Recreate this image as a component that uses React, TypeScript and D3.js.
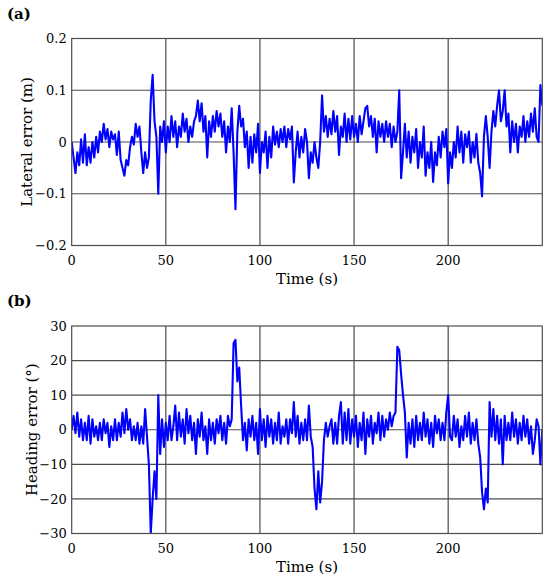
import * as d3 from "d3";
import React, { useEffect, useRef } from "react";

const lateralError = [
    0.0, -0.03, -0.06, -0.02, -0.045, 0.005, -0.04, 0.015, -0.045, -0.01,
    -0.04, 0.0, -0.03, 0.01, -0.02, 0.02, 0.0, 0.035, 0.005, 0.025,
    -0.01, 0.02, 0.005, 0.015, -0.025, 0.02, -0.035, -0.05, -0.065, -0.035,
    -0.045, -0.01, 0.01, -0.005, 0.035, 0.01, 0.03, -0.02, -0.06, -0.02,
    -0.05, -0.03, 0.08, 0.13, 0.04, 0.01, -0.1, 0.03, 0.0, 0.04,
    -0.02, 0.03, 0.0, 0.05, 0.01, 0.04, -0.01, 0.03, 0.01, 0.055,
    0.02, 0.045, 0.0, 0.03, 0.01, 0.04, 0.05, 0.08, 0.04, 0.075,
    0.02, 0.05, -0.03, 0.04, 0.01, 0.05, 0.02, 0.06, 0.03, 0.055,
    0.01, 0.04, -0.02, 0.03, 0.0, 0.065, -0.02, -0.13, 0.02, 0.07,
    0.03, 0.045, -0.01, 0.02, -0.05, 0.01, -0.04, 0.015, -0.02, 0.035,
    -0.06, 0.0, -0.02, 0.02, -0.05, 0.01, -0.03, 0.03, -0.005, 0.02,
    -0.01, 0.025, 0.0, 0.03, -0.01, 0.025, 0.005, 0.03, -0.078, -0.02,
    0.02, -0.03, 0.01, -0.02, 0.025, 0.0, -0.07, -0.02, -0.04, 0.0,
    -0.03, -0.05, 0.0, 0.09, 0.02, 0.05, 0.01, 0.045, 0.015, 0.06,
    0.02, 0.05, -0.025, 0.03, 0.01, 0.055, 0.0, 0.045, 0.005, 0.05,
    0.01, 0.035, 0.0, 0.05, 0.015, 0.04, 0.065, 0.07, 0.03, 0.05,
    0.01, 0.045, -0.02, 0.04, 0.01, 0.035, 0.0, 0.04, 0.01, 0.035,
    -0.01, 0.03, 0.0, 0.02, 0.1, -0.07, -0.02, 0.035, -0.03, 0.02,
    -0.04, 0.01, -0.02, 0.025, -0.05, 0.0, -0.03, 0.03, -0.065, -0.02,
    -0.05, 0.0, -0.077, -0.02, -0.045, 0.01, -0.03, 0.02, -0.01, 0.025,
    -0.08, -0.02, -0.05, 0.0, -0.03, 0.03, -0.02, 0.02, -0.04, 0.015,
    -0.01, 0.02, -0.04, 0.0, -0.03, 0.016, -0.04, -0.06, -0.105, 0.01,
    0.05, 0.01, -0.05, 0.02, 0.06, 0.03, 0.07, 0.1, 0.04, 0.06,
    0.1, 0.03, 0.055, -0.02, 0.04, 0.0, 0.035, -0.02, 0.03, 0.01,
    0.05, 0.0, 0.04, 0.01, 0.055, 0.02, 0.065, 0.01, 0.0, 0.11,
    0.07
];

const headingError = [
    0, 4, -1, 5, -2, 3, -3, 2, -3, 4,
    -4, 3, -2, 1, -3, 2, -3, 3, -1, 2,
    -5, 1, -3, 3, -3, 2, -2, 5, -1, 6,
    0, 3, -3, 1, -3, 2, -4, 1, -4, 6,
    -2, -10, -30, -20, -12, -20, 10, -7, 3, -5,
    2, -3, 4, -3, 1, 7, -3, 5, -2, 3,
    -4, 6, -1, 4, -3, 2, -7, 3, -2, 5,
    -3, 1, -7, 3, -3, 2, -4, 3, -1, 4,
    -3, 2, -4, 4, 1, 3, 25, 26, 14, 18,
    7, -3, 2, -6, 3, -2, 4, -3, 2, -7,
    6, -3, 3, -5, 4, -2, 3, -4, 2, -3,
    5, -4, 1, -2, 3, -4, 3, -1, 8, -2,
    4, -4, 2, -3, 3, -3, 7, -2, -5, -17,
    -23, -12, -21, -15, -3, 2, -2, 1, 3, -4,
    2, -4, 4, 8, -4, 5, -3, 6, -4, 3,
    -2, 4, -5, 2, -3, 5, -7, 3, -2, 4,
    -4, 2, -1, 5, -3, 4, -2, 3, 0, 5,
    1, 4, 5, 24, 23, 16, 10, 5, -8, 2,
    -4, 3, -5, 4, -3, 2, -3, 5, -2, 3,
    -4, 2, -5, 4, -1, 3, -3, 2, -3, 5,
    10, -2, -3, 4, -2, 3, -5, 1, -3, 4,
    -2, 5, -4, 2, -3, 3, -4, -8, -18, -23,
    -17, -21, 8, -2, 6, -3, 4, -4, 3, -10,
    4, -3, 2, -3, 5, -2, 3, -4, 2, -3,
    4, -2, 3, -4, 1, -7, -3, 3, 1, -10,
    0
];

const sampleStep = 1; // s
const timeDomain = [0, 250];
const timeTicks = [0, 50, 100, 150, 200];
const lateralTicks = [-0.2, -0.1, 0, 0.1, 0.2];
const headingTicks = [-30, -20, -10, 0, 10, 20, 30];

interface PanelSpec {
    id: string;
    letter: string;
    values: number[];
    ticks: number[];
    yLabel: string;
    top: number;
    bottom: number;
    yLabelX: number;
}

const panels: PanelSpec[] = [
    { id: "a", letter: "(a)", values: lateralError, ticks: lateralTicks, yLabel: "Lateral error (m)", top: 38.5, bottom: 245.5, yLabelX: 27 },
    { id: "b", letter: "(b)", values: headingError, ticks: headingTicks, yLabel: "Heading error (°)", top: 326, bottom: 533.5, yLabelX: 32 },
];

const left = 71.7;
const right = 542.3;
const gridColor = "#4d4d4d";
const font = "'DejaVu Serif', serif";

const fmt = (v: number) => (v === 0 ? "0" : String(v).replace("-", "\u2212"));

function drawPanel(svg: any, p: PanelSpec) {
    const x = d3.scaleLinear().domain(timeDomain).range([left, right]);
    const y = d3.scaleLinear()
        .domain([p.ticks[0], p.ticks[p.ticks.length - 1]])
        .range([p.bottom, p.top]);

    const g = svg.append("g").attr("class", `panel-${p.id}`);

    g.append("clipPath")
        .attr("id", `clip-${p.id}`)
        .append("rect")
        .attr("x", left)
        .attr("y", p.top)
        .attr("width", right - left)
        .attr("height", p.bottom - p.top);

    // grid
    g.selectAll(".vgrid")
        .data(timeTicks.slice(1))
        .enter()
        .append("line")
        .attr("x1", (d: number) => x(d))
        .attr("x2", (d: number) => x(d))
        .attr("y1", p.top)
        .attr("y2", p.bottom)
        .attr("stroke", gridColor)
        .attr("stroke-width", 1.2);

    g.selectAll(".hgrid")
        .data(p.ticks.slice(1, -1))
        .enter()
        .append("line")
        .attr("x1", left)
        .attr("x2", right)
        .attr("y1", (d: number) => y(d))
        .attr("y2", (d: number) => y(d))
        .attr("stroke", gridColor)
        .attr("stroke-width", 1.2);

    // signal
    const line = d3.line<number>()
        .x((_d, i) => x(i * sampleStep))
        .y(d => y(d));

    g.append("path")
        .datum(p.values)
        .attr("clip-path", `url(#clip-${p.id})`)
        .attr("fill", "none")
        .attr("stroke", "#0000ff")
        .attr("stroke-width", 2.1)
        .attr("stroke-linejoin", "round")
        .attr("d", line);

    // frame
    g.append("rect")
        .attr("x", left)
        .attr("y", p.top)
        .attr("width", right - left)
        .attr("height", p.bottom - p.top)
        .attr("fill", "none")
        .attr("stroke", gridColor)
        .attr("stroke-width", 1.2);

    // tick labels
    g.selectAll(".ytick")
        .data(p.ticks)
        .enter()
        .append("text")
        .attr("x", left - 5)
        .attr("y", (d: number) => y(d))
        .attr("dy", "0.36em")
        .attr("text-anchor", "end")
        .style("font", `13px ${font}`)
        .text((d: number) => fmt(d));

    g.selectAll(".xtick")
        .data(timeTicks)
        .enter()
        .append("text")
        .attr("x", (d: number) => x(d))
        .attr("y", p.bottom + 19.5)
        .attr("text-anchor", "middle")
        .style("font", `13px ${font}`)
        .text((d: number) => fmt(d));

    // axis labels
    g.append("text")
        .attr("x", (left + right) / 2)
        .attr("y", p.bottom + 38.5)
        .attr("text-anchor", "middle")
        .style("font", `15px ${font}`)
        .text("Time (s)");

    g.append("text")
        .attr("transform", `translate(${p.yLabelX},${(p.top + p.bottom) / 2}) rotate(-90)`)
        .attr("dy", "0.35em")
        .attr("text-anchor", "middle")
        .style("font", `15px ${font}`)
        .text(p.yLabel);

    g.append("text")
        .attr("x", 7)
        .attr("y", p.top - 20)
        .style("font", `bold 15px ${font}`)
        .text(p.letter);
}

export default function App() {
    const ref = useRef<SVGSVGElement>(null);

    useEffect(() => {
        const svg = d3.select(ref.current);
        svg.selectAll("*").remove();
        panels.forEach(p => drawPanel(svg, p));
    }, []);

    return (
        <svg
            ref={ref}
            width={550}
            height={580}
            style={{ position: "absolute", left: 0, top: 0, background: "#fff" }}
        />
    );
}
